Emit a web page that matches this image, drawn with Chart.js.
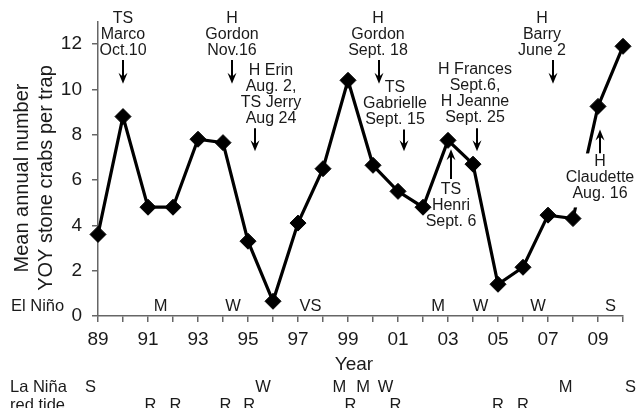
<!DOCTYPE html>
<html>
<head>
<meta charset="utf-8">
<script src="https://cdn.jsdelivr.net/npm/chart.js@4/dist/chart.umd.min.js"></script>
<style>
  html, body { margin: 0; padding: 0; background: #fff; }
  #wrap { width: 636px; height: 408px; }
</style>
</head>
<body>
<div id="wrap"><canvas id="myChart" width="636" height="408"></canvas></div>
<script>
const years = [1989, 1990, 1991, 1992, 1993, 1994, 1995, 1996, 1997, 1998, 1999,
               2000, 2001, 2002, 2003, 2004, 2005, 2006, 2007, 2008, 2009, 2010];
const crabs = [3.6, 8.8, 4.8, 4.8, 7.8, 7.65, 3.3, 0.65, 4.1, 6.5, 10.4,
               6.65, 5.5, 4.8, 7.75, 6.7, 1.4, 2.15, 4.45, 4.3, 9.25, 11.9];
const yTicks = [0, 2, 4, 6, 8, 10, 12];

// ENSO / red tide rows
const elNinoYears = [1991.5, 1994.4, 1997.5, 2002.6, 2004.3, 2006.6, 2009.5];
const elNinoCodes = ['M', 'W', 'VS', 'M', 'W', 'W', 'S'];
const laNinaYears = [1988.7, 1995.6, 1998.65, 1999.6, 2000.5, 2007.7, 2010.3];
const laNinaCodes = ['S', 'W', 'M', 'M', 'W', 'M', 'S'];
const redTideYears = [1991.1, 1992.1, 1994.1, 1995.05, 1999.1, 2000.9, 2005.0, 2006.0];

// storm labels: text anchor (year, value of first baseline) and arrow (year, from -> to)
const storms = [
  { lines: ['TS', 'Marco', 'Oct.10'], x: 1990.0, y: 12.95, ax: 1990.0, from: 11.3, to: 10.25 },
  { lines: ['H', 'Gordon', 'Nov.16'], x: 1994.36, y: 12.95, ax: 1994.36, from: 11.3, to: 10.25 },
  { lines: ['H Erin', 'Aug. 2,', 'TS Jerry', 'Aug 24'], x: 1995.92, y: 10.65, ax: 1995.28, from: 8.28, to: 7.27 },
  { lines: ['H', 'Gordon', 'Sept. 18'], x: 2000.2, y: 12.95, ax: 2000.24, from: 11.3, to: 10.25 },
  { lines: ['TS', 'Gabrielle', 'Sept. 15'], x: 2000.88, y: 9.9, ax: 2001.24, from: 8.23, to: 7.27 },
  { lines: ['H Frances', 'Sept.6,', 'H Jeanne', 'Sept. 25'], x: 2004.08, y: 10.68, ax: 2004.16, from: 8.28, to: 7.27 },
  { lines: ['TS', 'Henri', 'Sept. 6'], x: 2003.12, y: 5.38, ax: 2003.12, from: 6.04, to: 7.36 },
  { lines: ['H', 'Barry', 'June 2'], x: 2006.76, y: 12.95, ax: 2007.2, from: 11.3, to: 10.25 },
  { lines: ['H', 'Claudette', 'Aug. 16'], x: 2009.08, y: 6.6, ax: 2009.08, from: 7.18, to: 8.23, knockout: true }
];

const fam = '"Liberation Sans", Arial, Helvetica, sans-serif';
const txtColor = '#1a1a1a';
const axisColor = '#666';

const drawArrow = (ctx, x, y1, y2) => {
  const dir = y2 > y1 ? 1 : -1;
  ctx.beginPath();
  ctx.moveTo(x, y1);
  ctx.lineTo(x, y2 - dir * 6);
  ctx.stroke();
  ctx.beginPath();
  ctx.moveTo(x, y2);
  ctx.lineTo(x - 4.5, y2 - dir * 11);
  ctx.lineTo(x, y2 - dir * 7);
  ctx.lineTo(x + 4.5, y2 - dir * 11);
  ctx.closePath();
  ctx.fill();
};

const annotate = {
  id: 'annotate',
  afterDatasetsDraw(chart) {
    const ctx = chart.ctx;
    const sx = chart.scales.x;
    const sy = chart.scales.y;
    const lh = 16;
    ctx.save();
    ctx.fillStyle = txtColor;
    ctx.strokeStyle = '#000';
    ctx.lineWidth = 2;
    ctx.textAlign = 'center';
    ctx.textBaseline = 'alphabetic';
    ctx.font = '16px ' + fam;

    storms.forEach(s => {
      const cx = sx.getPixelForValue(s.x);
      const by = sy.getPixelForValue(s.y);
      if (s.knockout) {
        ctx.fillStyle = '#fff';
        ctx.fillRect(cx - 37, by - 13, 80, (s.lines.length - 1) * lh + 22);
      }
      ctx.fillStyle = txtColor;
      s.lines.forEach((t, i) => ctx.fillText(t, cx, by + i * lh));
      ctx.fillStyle = '#000';
      drawArrow(ctx, sx.getPixelForValue(s.ax), sy.getPixelForValue(s.from), sy.getPixelForValue(s.to));
    });
    ctx.fillStyle = txtColor;

    // y title
    ctx.font = '20px ' + fam;
    const cy = 178;
    ctx.save();
    ctx.translate(28, cy);
    ctx.rotate(-Math.PI / 2);
    ctx.fillText('Mean annual number', 0, 0);
    ctx.restore();
    ctx.save();
    ctx.translate(52, cy);
    ctx.rotate(-Math.PI / 2);
    ctx.fillText('YOY stone crabs per trap', 0, 0);
    ctx.restore();

    // x title
    ctx.font = '19px ' + fam;
    ctx.fillText('Year', 354, 370);

    // ENSO rows
    ctx.font = '16.5px ' + fam;
    ctx.textAlign = 'left';
    ctx.fillText('El Niño', 11, 311);
    ctx.fillText('La Niña', 10, 392);
    ctx.fillText('red tide', 10, 410);
    ctx.textAlign = 'center';
    elNinoYears.forEach((yr, i) => ctx.fillText(elNinoCodes[i], sx.getPixelForValue(yr), 311));
    laNinaYears.forEach((yr, i) => ctx.fillText(laNinaCodes[i], sx.getPixelForValue(yr), 392));
    redTideYears.forEach(yr => ctx.fillText('R', sx.getPixelForValue(yr), 410));
    ctx.restore();
  }
};

const ctx = document.getElementById('myChart').getContext('2d');
const myChart = new Chart(ctx, {
  type: 'line',
  data: {
    datasets: [{
      data: years.map((yr, i) => ({ x: yr, y: crabs[i] })),
      borderColor: '#000',
      borderWidth: 3.2,
      pointStyle: 'rectRot',
      pointRadius: 8,
      pointBackgroundColor: '#000',
      pointBorderColor: '#000',
      pointBorderWidth: 1,
      tension: 0,
      clip: false
    }]
  },
  options: {
    responsive: false,
    animation: false,
    devicePixelRatio: 1,
    layout: { padding: { top: 19, right: 13, left: 0, bottom: 0 } },
    plugins: { legend: { display: false }, tooltip: { enabled: false } },
    scales: {
      x: {
        type: 'linear',
        min: 1989,
        max: 2010,
        afterFit: s => { s.height = 92; },
        afterBuildTicks: s => { s.ticks = years.map(v => ({ value: v })); },
        ticks: {
          autoSkip: false,
          maxRotation: 0,
          padding: 6,
          color: txtColor,
          font: { family: fam, size: 19 },
          callback: v => (v % 2 ? String(v).slice(2) : '')
        },
        grid: { drawOnChartArea: false, tickLength: 6, color: axisColor, lineWidth: 1.5 },
        border: { color: axisColor, width: 1.5 }
      },
      y: {
        min: 0,
        max: 13,
        afterFit: s => { s.width = 98; },
        afterBuildTicks: s => { s.ticks = yTicks.map(v => ({ value: v })); },
        ticks: {
          padding: 10,
          color: txtColor,
          font: { family: fam, size: 19 }
        },
        grid: { drawOnChartArea: false, tickLength: 6, color: axisColor, lineWidth: 1.5 },
        border: { color: axisColor, width: 1.5 }
      }
    }
  },
  plugins: [annotate]
});
</script>
</body>
</html>
